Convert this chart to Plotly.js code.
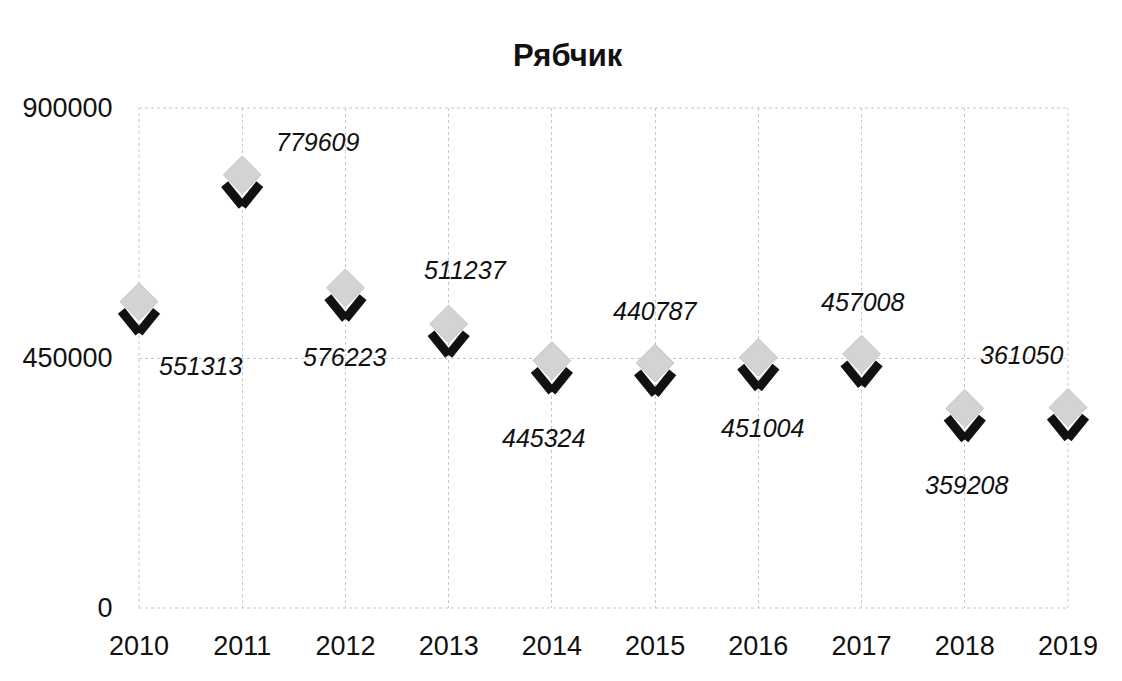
<!DOCTYPE html>
<html>
<head>
<meta charset="utf-8">
<script src="https://cdn.plot.ly/plotly-3.0.1.min.js"></script>
<style>
  html, body { margin: 0; padding: 0; background: #fff; }
  #chart { width: 1122px; height: 681px; }
</style>
</head>
<body>
<div id="chart"></div>
<script>
// ---- data ----
const years = [2010, 2011, 2012, 2013, 2014, 2015, 2016, 2017, 2018, 2019];
const values = [551313, 779609, 576223, 511237, 445324, 440787, 451004, 457008, 359208, 361050];
const yTicks = [0, 450000, 900000];
const chartTitle = "Рябчик";

// ---- label placement (pixel offsets, style only) ----
const labelShiftX = [62, 76, 0, 17, -8, 0, 4, 1, 2, -46];
const labelShiftY = [-64, 33, -69, 54, -77, 52, -71, 52, -77, 52];

const fontFam = "'Liberation Sans', Arial, sans-serif";
const gridCol = "#c8c8c8";
const yMax = 900000;
// the chevron "shadow" is drawn on an overlaid axis shifted down ~31 px
const shadowShift = yMax * 31 / 500;

const diamonds = {
  x: years, y: values, type: "scatter", mode: "markers",
  marker: { symbol: "diamond", size: 29, color: "#d3d3d3",
            line: { width: 1, color: "#c2c2c2" } },
  cliponaxis: false, hoverinfo: "x+y", showlegend: false
};

const arm = (ang) => ({
  x: years, y: values, type: "scatter", mode: "markers", yaxis: "y2",
  marker: { symbol: "line-ns", size: 20, angle: ang, standoff: 14,
            color: "#111", line: { width: 9, color: "#111" } },
  cliponaxis: false, hoverinfo: "skip", showlegend: false
});

const annotations = years.map((yr, i) => ({
  x: yr, y: values[i], xref: "x", yref: "y",
  text: "<i>" + values[i] + "</i>", showarrow: false,
  xshift: labelShiftX[i], yshift: labelShiftY[i],
  font: { family: fontFam, size: 25, color: "#111" }
}));

const border = (x0, y0, x1, y1) => ({
  type: "line", xref: "paper", yref: "paper", x0: x0, y0: y0, x1: x1, y1: y1,
  line: { color: gridCol, width: 1, dash: "dot" }, layer: "below"
});

const layout = {
  width: 1122, height: 681,
  paper_bgcolor: "#fff", plot_bgcolor: "#fff",
  margin: { l: 139, r: 54, t: 108, b: 73 },
  title: { text: "<b>" + chartTitle + "</b>", x: 0.506, xref: "container",
           y: 0.919, yref: "container", yanchor: "middle", xanchor: "center",
           font: { family: fontFam, size: 31, color: "#111" } },
  xaxis: {
    type: "linear", range: [2010, 2019], tickvals: years, ticktext: years.map(String),
    showgrid: true, gridcolor: gridCol, griddash: "dot", gridwidth: 1,
    zeroline: false, showline: false,
    ticks: "outside", ticklen: 14, tickcolor: "rgba(0,0,0,0)",
    tickfont: { family: fontFam, size: 27, color: "#111" }
  },
  yaxis: {
    range: [0, yMax], tickvals: yTicks, ticktext: yTicks.map(String),
    showgrid: true, gridcolor: gridCol, griddash: "dot", gridwidth: 1,
    zeroline: false, showline: false,
    ticks: "outside", ticklen: 20, tickcolor: "rgba(0,0,0,0)",
    tickfont: { family: fontFam, size: 27, color: "#111" }
  },
  yaxis2: {
    overlaying: "y", range: [shadowShift, yMax + shadowShift], visible: false,
    showgrid: false, zeroline: false
  },
  shapes: [border(0, 0, 1, 0), border(0, 1, 1, 1), border(0, 0, 0, 1), border(1, 0, 1, 1)],
  annotations: annotations,
  showlegend: false
};

Plotly.newPlot("chart", [diamonds, arm(141), arm(-141)], layout,
               { displayModeBar: false, staticPlot: true });
</script>
</body>
</html>
